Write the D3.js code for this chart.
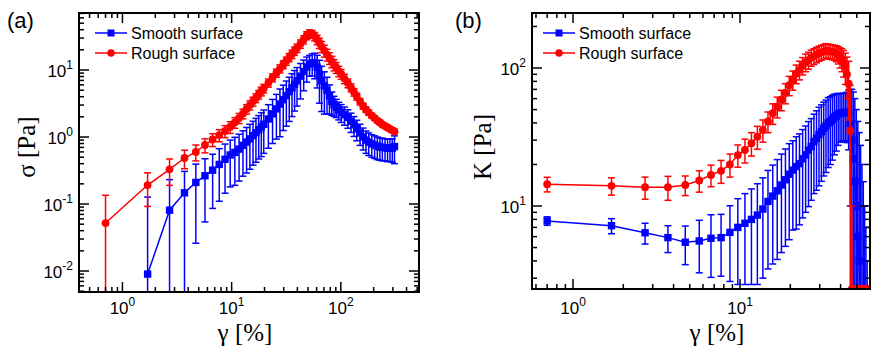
<!DOCTYPE html>
<html>
<head>
<meta charset="utf-8">
<script src="https://cdn.jsdelivr.net/npm/d3@7"></script>
<style>
  body { margin: 0; background: #fff; }
  svg { display: block; }
</style>
</head>
<body>
<svg id="chart" width="882" height="354"></svg>
<script>
// Panel (a): sigma vs strain
var gammaA = [0.7, 1.7, 2.7, 3.7, 4.7, 5.7, 6.7, 7.7, 8.7, 9.7,
  10.7, 11.7, 12.7, 13.7, 14.7, 15.7, 16.7, 17.7, 18.7, 19.7,
  21.7, 23.7, 25.7, 27.7, 29.7, 31.7, 33.7, 35.7, 37.7, 39.7,
  42.7, 45.7, 48.7, 51.7, 54.7, 57.7, 60.7, 63.7, 66.7, 70.7, 74.7, 78.7, 82.7, 86.7, 90.7, 95.7, 100.7,
  108, 116, 124, 132, 140, 150, 160, 170, 180, 192, 204, 216, 228, 240, 254, 268, 282, 296, 310]
var sigmaSmooth = [null, 0.009, 0.081, 0.147, 0.21, 0.264, 0.32, 0.39, 0.465, 0.54,
  0.59, 0.66, 0.75, 0.84, 0.94, 1.05, 1.16, 1.28, 1.41, 1.55,
  1.86, 2.22, 2.63, 3.11, 3.6, 4.15, 4.76, 5.42, 6.14, 6.9,
  8.1, 9.5, 11.1, 12.3, 12.8, 12.6, 11.0, 8.6, 6.9, 5.8, 5.0, 4.1, 3.4, 3.05, 2.8, 2.55, 2.35,
  2.15, 1.95, 1.72, 1.52, 1.33, 1.15, 1.0, 0.9, 0.84, 0.79, 0.76, 0.73, 0.71, 0.7, 0.69, 0.68, 0.68, 0.68, 0.72]
var sigmaSmoothErr = [null, 0.118, 0.15, 0.16, 0.184, 0.21, 0.234, 0.28, 0.32, 0.36,
  0.4, 0.44, 0.49, 0.55, 0.61, 0.67, 0.74, 0.81, 0.9, 0.98,
  1.18, 1.42, 1.7, 2.1, 2.35, 2.7, 3.05, 3.4, 3.7, 4.0,
  4.4, 4.6, 4.5, 4.2, 4.6, 5.2, 5.6, 5.4, 4.5, 3.6, 2.8, 1.9, 1.3, 1.0, 0.85, 0.75, 0.7,
  0.65, 0.6, 0.55, 0.5, 0.45, 0.4, 0.36, 0.33, 0.31, 0.29, 0.28, 0.27, 0.26, 0.26, 0.25, 0.25, 0.25, 0.26, 0.32]
var sigmaRough = [0.052, 0.192, 0.33, 0.486, 0.60, 0.76, 0.92, 1.07, 1.23, 1.41,
  1.65, 1.92, 2.24, 2.62, 3.0, 3.41, 3.84, 4.31, 4.82, 5.34,
  6.45, 7.7, 9.06, 10.5, 12.1, 13.7, 15.5, 17.3, 19.3, 21.3,
  24.6, 28.5, 32.8, 35.2, 34.4, 31.8, 28.5, 25.3, 22.4, 19.5, 17.0, 15.1, 13.4, 12.0, 10.9, 9.65, 8.72,
  7.45, 6.4, 5.47, 4.69, 4.03, 3.39, 2.9, 2.57, 2.32, 2.09, 1.92, 1.76, 1.65, 1.54, 1.46, 1.39, 1.32, 1.26, 1.21]
var sigmaRoughErr = [0.083, 0.10, 0.14, 0.15, 0.16, 0.18, 0.2, 0.22, 0.25, 0.28,
  0.3, 0.33, 0.37, 0.42, 0.47, 0.52, 0.57, 0.63, 0.7, 0.77,
  0.9, 1.05, 1.25, 1.45, 1.65, 1.9, 2.15, 2.45, 2.75, 3.05,
  3.5, 4.0, 4.5, 4.6, 4.6, 4.5, 4.5, 4.4, 4.2, 3.9, 3.4, 3.0, 2.6, 2.3, 2.0, 1.7, 1.45,
  1.2, 0.95, 0.75, 0.6, 0.48, 0.38, 0.3, 0.24, 0.2, 0.17, 0.15, 0.13, 0.12, 0.11, 0.1, 0.1, 0.09, 0.09, 0.09]

// Panel (b): K vs strain
var gammaB = [0.7, 1.7, 2.7, 3.7, 4.7, 5.7, 6.7, 7.7, 8.7, 9.7,
  10.7, 11.7, 12.7, 13.7, 14.7, 15.7, 16.7, 17.7, 18.7, 19.7,
  20.7, 21.7, 22.7, 23.7, 24.7, 25.7, 26.7, 27.7, 28.7, 29.7,
  30.7, 31.7, 32.7, 33.7, 34.7, 35.7, 36.7, 37.7, 38.7, 39.7,
  40.7, 41.7, 42.7, 43.7, 44.7, 45.7, 46.7, 47.7, 48.7, 49.7,
  50.7, 51.7, 52.7, 53.7, 54.7, 55.7, 56.7, 57.7, 58.7, 59.7]
var kSmooth = [7.8, 7.2, 6.4, 5.9, 5.46, 5.58, 5.84, 5.9, 6.44, 7.0,
  7.5, 8.0, 8.6, 9.5, 10.8, 11.8, 12.9, 14.2, 15.5, 17.0,
  18.2, 19.3, 20.3, 22.0, 23.5, 25.4, 27.0, 29.3, 31.0, 33.0,
  34.6, 36.5, 38.0, 40.0, 41.0, 42.5, 44.0, 45.0, 46.5, 47.0,
  47.5, 47.5, 47.7, 47.8, 47.5, 40, 30, 22, 15, 10,
  6, 4, 2.5, -2, -5, -8, -10, -12, -14, -16]
var kSmoothErr = [0.55, 0.9, 1.1, 1.3, 1.7, 2.3, 2.8, 2.8, 3.6, 4.3,
  4.8, 5.3, 5.9, 6.5, 7.3, 8.0, 8.8, 9.6, 10.4, 11.3,
  11.5, 12.5, 13, 13.8, 14.5, 15.5, 16, 17, 18, 19,
  19.5, 20, 20.5, 21, 21, 21, 20.5, 20, 19, 18,
  18, 18, 18, 19, 22, 30, 40, 45, 45, 40,
  35, 30, 25, 22, 20, 18, 17, 16, 16, 16]
var kRough = [14.4, 14.0, 13.7, 13.7, 14.2, 15.3, 16.8, 18.0, 20.0, 23.4,
  25.5, 28.5, 31.8, 35.5, 41, 47, 52.5, 59, 66, 75,
  82, 91, 97, 104, 110, 114, 119, 122, 125, 128,
  130, 132, 134, 133, 132, 131, 130, 128, 125, 120,
  116, 110, 102, 90, 77, 35, -15, -30, -30, -30,
  -30, -30, -30, -30, -30, -30, -30, -30, -30, -30]
var kRoughErr = [1.75, 2.0, 2.5, 2.7, 2.3, 2.7, 3.0, 3.4, 3.8, 4.3,
  5.0, 5.5, 6.0, 6.5, 7.0, 8.0, 9.0, 10, 11, 12,
  13, 14, 15, 15, 16, 16, 16, 16, 16, 16,
  16, 16, 16, 16, 16, 16, 16, 17, 18, 20,
  22, 24, 26, 30, 35, 40, 25, 10, 10, 10,
  10, 10, 10, 10, 10, 10, 10, 10, 10, 10]

var xTicksA = [1, 10, 100], yTicksA = [0.01, 0.1, 1, 10]
var xTicksB = [1, 10], yTicksB = [10, 100]
var seriesNames = ['Smooth surface', 'Rough surface']
var blue = '#0000ff', red = '#ff0000'

var svg = d3.select('#chart')
var sans = 'Liberation Sans, Arial, Helvetica, sans-serif'
var serif = 'Liberation Serif, Times New Roman, serif'

function minorTicks (domain) {
  var out = []
  var lo = Math.floor(Math.log10(domain[0])), hi = Math.ceil(Math.log10(domain[1]))
  for (var p = lo; p <= hi; p++) {
    for (var k = 2; k <= 9; k++) {
      var v = k * Math.pow(10, p)
      if (v >= domain[0] * 1.0001 && v <= domain[1] * 0.9999) out.push(v)
    }
  }
  return out
}

function powLabel (sel, v) {
  sel.append('tspan').text('10')
  sel.append('tspan').attr('dy', -8).attr('font-size', 12).text(String(Math.round(Math.log10(v))))
}

function drawPanel (cfg) {
  var g = svg.append('g')
  var x = d3.scaleLog().domain(cfg.xDomain).range([cfg.left, cfg.right])
  var y = d3.scaleLog().domain(cfg.yDomain).range([cfg.bottom, cfg.top])
  var yc = function (v) { return v > 0 ? Math.min(y(v), cfg.bottom) : cfg.bottom }

  svg.append('clipPath').attr('id', 'clip-' + cfg.id)
    .append('rect')
    .attr('x', cfg.left).attr('y', cfg.top)
    .attr('width', cfg.right - cfg.left).attr('height', cfg.bottom - cfg.top)

  cfg.series.forEach(function (s) {
    var pts = cfg.gamma.map(function (gm, i) {
      return { g: gm, v: s.values[i], e: s.errors[i] }
    }).filter(function (d) { return d.v != null })
    var layer = g.append('g').attr('clip-path', 'url(#clip-' + cfg.id + ')')

    layer.append('path')
      .datum(pts)
      .attr('d', d3.line().x(function (d) { return x(d.g) }).y(function (d) { return yc(d.v) }))
      .attr('fill', 'none')
      .attr('stroke', s.color)
      .attr('stroke-width', 1.5)

    var eb = layer.append('g').attr('stroke', s.color).attr('stroke-width', 1.5)
    eb.selectAll('line.bar').data(pts).enter().append('line')
      .attr('x1', function (d) { return x(d.g) })
      .attr('x2', function (d) { return x(d.g) })
      .attr('y1', function (d) { return yc(d.v + d.e) })
      .attr('y2', function (d) { return yc(d.v - d.e) })
    eb.selectAll('line.top').data(pts).enter().append('line')
      .attr('x1', function (d) { return x(d.g) - 3.5 })
      .attr('x2', function (d) { return x(d.g) + 3.5 })
      .attr('y1', function (d) { return yc(d.v + d.e) })
      .attr('y2', function (d) { return yc(d.v + d.e) })
    eb.selectAll('line.bot').data(pts).enter().append('line')
      .attr('x1', function (d) { return x(d.g) - 3.5 })
      .attr('x2', function (d) { return x(d.g) + 3.5 })
      .attr('y1', function (d) { return yc(d.v - d.e) })
      .attr('y2', function (d) { return yc(d.v - d.e) })

    if (s.shape === 'square') {
      layer.selectAll('rect.m').data(pts).enter().append('rect')
        .attr('x', function (d) { return x(d.g) - 3.7 })
        .attr('y', function (d) { return yc(d.v) - 3.7 })
        .attr('width', 7.4).attr('height', 7.4)
        .attr('fill', s.color)
    } else {
      layer.selectAll('circle.m').data(pts).enter().append('circle')
        .attr('cx', function (d) { return x(d.g) })
        .attr('cy', function (d) { return yc(d.v) })
        .attr('r', 3.9)
        .attr('fill', s.color)
    }
  })

  // frame and inside ticks on all four sides
  g.append('rect')
    .attr('x', cfg.left).attr('y', cfg.top)
    .attr('width', cfg.right - cfg.left).attr('height', cfg.bottom - cfg.top)
    .attr('fill', 'none').attr('stroke', '#000').attr('stroke-width', 2)

  var tk = g.append('g').attr('stroke', '#000').attr('stroke-width', 1.5)
  function xTick (v, len) {
    tk.append('line').attr('x1', x(v)).attr('x2', x(v)).attr('y1', cfg.bottom).attr('y2', cfg.bottom - len)
    tk.append('line').attr('x1', x(v)).attr('x2', x(v)).attr('y1', cfg.top).attr('y2', cfg.top + len)
  }
  function yTick (v, len) {
    tk.append('line').attr('y1', y(v)).attr('y2', y(v)).attr('x1', cfg.left).attr('x2', cfg.left + len)
    tk.append('line').attr('y1', y(v)).attr('y2', y(v)).attr('x1', cfg.right).attr('x2', cfg.right - len)
  }
  cfg.xTicks.forEach(function (v) { xTick(v, 10) })
  minorTicks(cfg.xDomain).forEach(function (v) { xTick(v, 5) })
  cfg.yTicks.forEach(function (v) { yTick(v, 10) })
  minorTicks(cfg.yDomain).forEach(function (v) { yTick(v, 5) })

  cfg.xTicks.forEach(function (v) {
    g.append('text').attr('x', x(v)).attr('y', 314)
      .attr('text-anchor', 'middle').attr('font-family', sans).attr('font-size', 17)
      .call(powLabel, v)
  })
  cfg.yTicks.forEach(function (v) {
    g.append('text').attr('x', cfg.left - 6).attr('y', y(v) + 7)
      .attr('text-anchor', 'end').attr('font-family', sans).attr('font-size', 17)
      .call(powLabel, v)
  })

  // titles
  g.append('text').attr('x', (cfg.left + cfg.right) / 2 + cfg.xTitleShift).attr('y', 341)
    .attr('text-anchor', 'middle').attr('font-family', serif).attr('font-size', 25)
    .text('γ [%]')
  g.append('text')
    .attr('transform', 'translate(' + cfg.yTitleX + ',147) rotate(-90)')
    .attr('text-anchor', 'middle').attr('font-family', serif).attr('font-size', 25)
    .text(cfg.yTitle)
  g.append('text').attr('x', cfg.tagX).attr('y', 28)
    .attr('font-family', sans).attr('font-size', 22).text(cfg.tag)

  // legend
  cfg.series.forEach(function (s, i) {
    var ly = 33 + i * 20, lx = cfg.legendX
    g.append('line').attr('x1', lx).attr('x2', lx + 32).attr('y1', ly).attr('y2', ly)
      .attr('stroke', s.color).attr('stroke-width', 1.5)
    if (s.shape === 'square') {
      g.append('rect').attr('x', lx + 16 - 3.5).attr('y', ly - 3.5).attr('width', 7).attr('height', 7).attr('fill', s.color)
    } else {
      g.append('circle').attr('cx', lx + 16).attr('cy', ly).attr('r', 3.7).attr('fill', s.color)
    }
    g.append('text').attr('x', lx + 36).attr('y', ly + 5.5)
      .attr('font-family', sans).attr('font-size', 16).text(seriesNames[i])
  })
}

drawPanel({
  id: 'a', tag: '(a)', tagX: 7,
  left: 79, right: 419, top: 13, bottom: 292,
  xDomain: [0.4, 520], yDomain: [0.00486, 71],
  xTicks: xTicksA, yTicks: yTicksA,
  yTitle: 'σ [Pa]', yTitleX: 35, xTitleShift: -4,
  legendX: 95,
  gamma: gammaA,
  series: [
    { values: sigmaSmooth, errors: sigmaSmoothErr, color: blue, shape: 'square' },
    { values: sigmaRough, errors: sigmaRoughErr, color: red, shape: 'circle' }
  ]
})

drawPanel({
  id: 'b', tag: '(b)', tagX: 455,
  left: 532, right: 870, top: 13, bottom: 289,
  xDomain: [0.568, 60], yDomain: [2.504, 250.4],
  xTicks: xTicksB, yTicks: yTicksB,
  yTitle: 'K [Pa]', yTitleX: 491, xTitleShift: 16,
  legendX: 543,
  gamma: gammaB,
  series: [
    { values: kSmooth, errors: kSmoothErr, color: blue, shape: 'square' },
    { values: kRough, errors: kRoughErr, color: red, shape: 'circle' }
  ]
})
</script>
</body>
</html>
